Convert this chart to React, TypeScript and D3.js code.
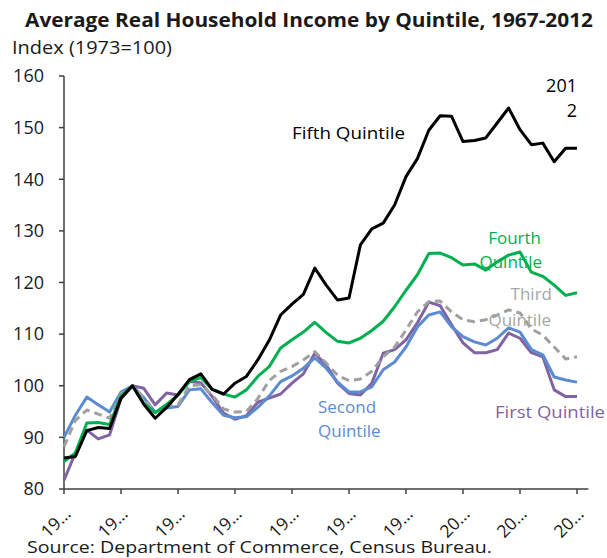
import React from 'react';
import * as d3 from 'd3';

const years = d3.range(1967, 2013);

// index values (1973 = 100), one per year 1967-2012
const fifth = [86, 86.3, 91.3, 91.9, 91.7, 97.6, 100, 96.4, 93.7, 95.8,
  98.3, 101.2, 102.3, 99.3, 98.4, 100.5, 101.8, 105, 108.8, 113.7,
  115.8, 117.7, 122.8, 119.5, 116.6, 117, 127.3, 130.4, 131.5, 135,
  140.5, 144, 149.5, 152.3, 152.2, 147.3, 147.5, 148, 150.9, 153.8,
  149.6, 146.7, 147, 143.4, 146, 146];
const fourth = [85.3, 87, 92.8, 92.9, 92.5, 98, 100, 96.6, 94.8, 96.4,
  98.2, 100.8, 101.6, 99.3, 98.4, 97.8, 99.2, 101.8, 103.7, 107.3,
  108.9, 110.4, 112.3, 110.3, 108.6, 108.3, 109.2, 110.7, 112.5, 115.3,
  118.5, 121.5, 125.6, 125.7, 124.8, 123.4, 123.6, 122.4, 124, 125.3,
  125.9, 122, 121.2, 119.5, 117.5, 118];
const third = [88.2, 93.3, 95.3, 94.5, 93.7, 98.4, 100, 97.5, 94.8, 96.2,
  96.3, 100, 100.2, 98.2, 95.5, 94.9, 95, 97.5, 101, 102.8,
  103.7, 105, 106.6, 104.4, 102, 101, 101.3, 102.8, 105.6, 107.5,
  110.8, 114.3, 116.3, 116.4, 114.3, 112.8, 112.4, 112.8, 113.7, 114.7,
  114.1, 111, 109.8, 107.5, 105.2, 105.6];
const second = [90, 94.3, 97.8, 96.3, 94.9, 98.8, 100, 97.7, 94.9, 95.7,
  96, 99.2, 99.4, 96.7, 94.3, 93.8, 94, 95.8, 98, 100.8,
  101.9, 103.4, 105.4, 103.4, 100.7, 98.8, 98.8, 99.8, 103.1, 104.6,
  107.5, 111.4, 113.7, 114.3, 111.4, 109.5, 108.5, 107.9, 109.2, 111.2,
  110.4, 107, 106, 101.7, 101.1, 100.7];
const first = [81.7, 87, 91.4, 89.7, 90.5, 97.5, 100, 99.5, 96.3, 98.6,
  98.2, 100.8, 100.6, 97.9, 94.7, 93.5, 94.2, 96.8, 97.6, 98.4,
  100.5, 102.3, 106.3, 104, 100.5, 98.5, 98.2, 100.5, 106.3, 107,
  108.9, 112.2, 116.2, 115.5, 111.8, 108.3, 106.4, 106.4, 107, 110.2,
  109.2, 106.4, 105.6, 99.2, 97.9, 97.9];

const yTicks = [80, 90, 100, 110, 120, 130, 140, 150, 160];
const xTickYears = d3.range(1967, 2013, 5);

const series = [
  { name: 'First Quintile', values: first, color: '#8064a2', dash: null },
  { name: 'Second Quintile', values: second, color: '#5b8bd0', dash: null },
  { name: 'Third Quintile', values: third, color: '#a0a0a0', dash: '8,5' },
  { name: 'Fourth Quintile', values: fourth, color: '#00b050', dash: null },
  { name: 'Fifth Quintile', values: fifth, color: '#000000', dash: null },
];

const FONT = "'Open Sans', sans-serif";

export default function App() {
  const x = d3.scaleLinear().domain([1967, 2012]).range([64, 577]);
  const y = d3.scaleLinear().domain([80, 160]).range([489, 76]);
  const line = d3.line<number>()
    .x((_, i) => x(years[i]))
    .y(d => y(d));

  const axisColor = '#404040';

  return (
    <svg width={607} height={558} style={{ position: 'absolute', left: 0, top: 0, background: '#fff' }}
      fontFamily={FONT}>
      <text x={25} y={27} fontSize={20} fontWeight="bold" fill="#1a1a1a"
        textLength={568} lengthAdjust="spacingAndGlyphs">
        Average Real Household Income by Quintile, 1967-2012
      </text>
      <text x={12} y={54} fontSize={17.5} fill="#1a1a1a"
        textLength={160} lengthAdjust="spacingAndGlyphs">Index (1973=100)</text>

      {/* y axis */}
      <line x1={64} x2={64} y1={y(160)} y2={y(80)} stroke={axisColor} strokeWidth={1.5} />
      {yTicks.map(t => (
        <g key={t}>
          <line x1={59} x2={64} y1={y(t)} y2={y(t)} stroke={axisColor} strokeWidth={1.5} />
          <text x={44} y={y(t)} dy="0.35em" textAnchor="end" fontSize={18} fill="#1a1a1a">{t}</text>
        </g>
      ))}

      {/* x axis */}
      <line x1={64} x2={x(2013)} y1={y(80)} y2={y(80)} stroke={axisColor} strokeWidth={1.5} />
      {xTickYears.map(t => (
        <g key={t}>
          <line x1={x(t)} x2={x(t)} y1={y(80)} y2={y(80) + 5} stroke={axisColor} strokeWidth={1.5} />
          <g transform={`translate(${x(t) + 8},${515}) rotate(-45)`}>
            <text textAnchor="end" fontSize={17.5} fill="#1a1a1a">{String(t).slice(0, 2) + '…'}</text>
          </g>
        </g>
      ))}

      {series.map(s => (
        <path key={s.name} d={line(s.values) || ''} fill="none" stroke={s.color}
          strokeWidth={3} strokeLinejoin="round" strokeDasharray={s.dash || undefined} />
      ))}

      {/* series labels */}
      <g fontSize={17}>
        <text x={292} y={139} fill="#000" textLength={113} lengthAdjust="spacingAndGlyphs">Fifth Quintile</text>
        <text x={577} y={92} textAnchor="end" fill="#000" fontSize={18}>201</text>
        <text x={577} y={117} textAnchor="end" fill="#000" fontSize={18}>2</text>
        <text x={541} y={244} textAnchor="end" fill="#00b050">Fourth</text>
        <text x={542} y={268} textAnchor="end" fill="#00b050">Quintile</text>
        <text x={552} y={300} textAnchor="end" fill="#a6a6a6">Third</text>
        <text x={551} y={326} textAnchor="end" fill="#a6a6a6">Quintile</text>
        <text x={318} y={413} fill="#5b8bd0">Second</text>
        <text x={318} y={437} fill="#5b8bd0">Quintile</text>
        <text x={495} y={418} fill="#8064a2" textLength={110} lengthAdjust="spacingAndGlyphs">First Quintile</text>
      </g>

      <text x={27} y={553} fontSize={17} fill="#1a1a1a" textLength={465}
        lengthAdjust="spacingAndGlyphs">Source: Department of Commerce, Census Bureau.</text>
    </svg>
  );
}
